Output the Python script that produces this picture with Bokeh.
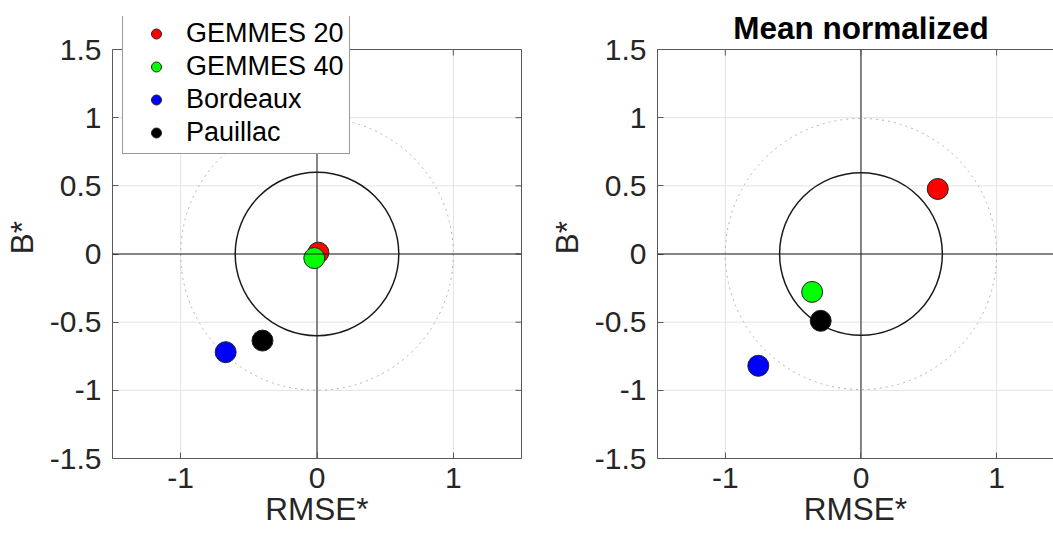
from bokeh.plotting import figure
from bokeh.models import (Range1d, FixedTicker, LinearAxis, Span, Legend, LegendItem, Label)
from bokeh.layouts import row
from bokeh.embed import file_html
from bokeh.resources import INLINE

# ---- data ----
names = ["GEMMES 20", "GEMMES 40", "Bordeaux", "Pauillac"]
colors = ["#ff0000", "#00ff00", "#0000ff", "#000000"]
left_rmse = [0.01, -0.02, -0.67, -0.40]
left_b = [0.01, -0.03, -0.72, -0.635]
right_rmse = [0.566, -0.36, -0.757, -0.297]
right_b = [0.477, -0.278, -0.82, -0.49]
x_ticks = [-1, 0, 1]
x_tick_labels = ["-1", "0", "1"]
y_ticks = [-1.5, -1.0, -0.5, 0.0, 0.5, 1.0, 1.5]
y_tick_labels = ["-1.5", "-1", "-0.5", "0", "0.5", "1", "1.5"]
inner_radius = 0.6
outer_radius = 1.0
right_title = "Mean normalized"

FONT = "Liberation Sans"
TXT = "#262626"
AX = "#5a5a5a"
GRID = "#e3e3e3"

FRAME = 409          # px for 3 data units
PX = FRAME / 3.0
TICK_PX = 6
BORDER_T = 16
EXTRA_TOP = 33       # frame space above the box (legend / title live there)
BORDER_B = 78


def style_axis(ax, ticks, tick_labels):
    ax.ticker = FixedTicker(ticks=ticks)
    ax.bounds = (-1.5, 1.5)
    ax.axis_line_color = AX
    ax.axis_line_width = 1
    ax.major_tick_in = TICK_PX
    ax.major_tick_out = 0
    ax.minor_tick_in = 0
    ax.minor_tick_out = 0
    ax.major_tick_line_color = AX
    ax.major_label_overrides = {float(t): s for t, s in zip(ticks, tick_labels)}
    ax.major_label_text_font = FONT
    ax.major_label_text_font_size = "30px"
    ax.major_label_text_color = TXT
    ax.axis_label_text_font = FONT
    ax.axis_label_text_font_size = "31.5px"
    ax.axis_label_text_font_style = "normal"
    ax.axis_label_text_color = TXT


def line_axis(ax):
    ax.ticker = FixedTicker(ticks=[])
    ax.bounds = (-1.5, 1.5)
    ax.axis_line_color = AX
    ax.major_tick_in = 0
    ax.major_tick_out = 0
    ax.minor_tick_in = 0
    ax.minor_tick_out = 0
    ax.major_label_standoff = 0


def make_fig(border_l, frame_w, border_r, rmse, b, right_edge):
    x_end = -1.5 + frame_w / PX
    y_end = 1.5 + EXTRA_TOP / PX
    p = figure(width=border_l + frame_w + border_r,
               height=BORDER_T + EXTRA_TOP + FRAME + BORDER_B,
               output_backend="svg", toolbar_location=None,
               x_range=Range1d(-1.5, x_end), y_range=Range1d(-1.5, y_end),
               x_axis_location=None, y_axis_location=None,
               min_border_left=border_l, min_border_right=border_r,
               min_border_top=BORDER_T, min_border_bottom=BORDER_B)
    p.outline_line_color = None
    p.background_fill_color = "white"
    p.border_fill_color = "white"
    p.xgrid.visible = False
    p.ygrid.visible = False

    xb = LinearAxis(axis_label="RMSE*")
    style_axis(xb, x_ticks, x_tick_labels)
    xb.major_label_standoff = 9
    xb.axis_label_standoff = 0
    p.add_layout(xb, "below")
    yl = LinearAxis(axis_label="B*")
    style_axis(yl, y_ticks, y_tick_labels)
    yl.major_label_standoff = 11
    yl.axis_label_standoff = 7
    p.add_layout(yl, "left")
    if right_edge:
        yr = LinearAxis()
        line_axis(yr)
        p.add_layout(yr, "right")

    # grid lines, kept inside the box
    gx_end = min(1.5, x_end)
    p.segment(x0=[-1.5] * len(y_ticks), y0=y_ticks, x1=[gx_end] * len(y_ticks), y1=y_ticks,
              line_color=GRID, line_width=1)
    p.segment(x0=x_ticks, y0=[-1.5] * len(x_ticks), x1=x_ticks, y1=[1.5] * len(x_ticks),
              line_color=GRID, line_width=1)

    # top edge of the box
    p.segment(x0=[-1.5], y0=[1.5], x1=[x_end], y1=[1.5], line_color=AX, line_width=1)
    # axes through the origin
    p.segment(x0=[0], y0=[-1.5], x1=[0], y1=[1.5], line_color="#1a1a1a", line_width=1)
    p.add_layout(Span(location=0, dimension="width", line_color="#1a1a1a", line_width=1))

    # inward ticks on the top (and right) edges of the box
    tl = TICK_PX / PX
    p.segment(x0=x_ticks, y0=[1.5] * len(x_ticks), x1=x_ticks, y1=[1.5 - tl] * len(x_ticks),
              line_color=AX, line_width=1)
    if right_edge:
        p.segment(x0=[1.5] * len(y_ticks), y0=y_ticks, x1=[1.5 - tl] * len(y_ticks), y1=y_ticks,
                  line_color=AX, line_width=1)

    p.circle(x=[0], y=[0], radius=outer_radius, fill_color=None,
             line_color="#b3b3b3", line_dash="dotted", line_width=1)
    p.circle(x=[0], y=[0], radius=inner_radius, fill_color=None,
             line_color="#1a1a1a", line_width=1.5)

    for xi, yi, c in zip(rmse, b, colors):
        p.scatter(x=[xi], y=[yi], size=21, fill_color=c, line_color="#222222", line_width=1)
    return p


p1 = make_fig(112, FRAME, 24, left_rmse, left_b, True)
# right panel: box is cut by the right edge of the picture
p2 = make_fig(110, 398, 0, right_rmse, right_b, False)

# legend on left plot (overlaps the top edge of the box)
leg_rs = []
for c in colors:
    leg_rs.append(p1.scatter(x=[-10], y=[-10], size=10, fill_color=c, line_color="#222222"))
legend = Legend(items=[LegendItem(label=n, renderers=[r]) for n, r in zip(names, leg_rs)],
                location=(10, 304))
legend.label_text_font = FONT
legend.label_text_font_size = "27px"
legend.label_text_color = "#000000"
legend.glyph_width = 56
legend.glyph_height = 25
legend.label_standoff = 2
legend.padding = 5
legend.spacing = 2
legend.margin = 0
legend.border_line_color = "#333333"
legend.border_line_width = 1
legend.background_fill_alpha = 1
p1.add_layout(legend, "center")

title = Label(x=0, y=1.5, x_units="data", y_units="data", y_offset=22, text=right_title,
              text_align="center", text_baseline="alphabetic", text_font=FONT,
              text_font_size="31.5px", text_font_style="bold", text_color="#000000")
p2.add_layout(title)

layout = row(p1, p2, spacing=0)
open("out.html", "w").write(file_html(layout, INLINE))
